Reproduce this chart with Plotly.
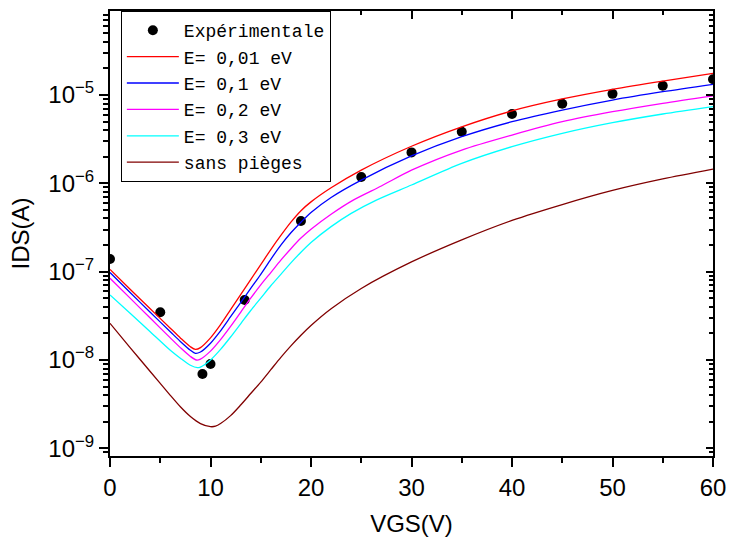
import plotly.graph_objects as go

# Experimental data
vgs_exp = [0, 5, 9.2, 10, 13.4, 19, 25, 30, 35, 40, 45, 50, 55, 60]
ids_exp = [1.39e-7, 3.47e-8, 6.95e-9, 9.0e-9, 4.78e-8, 3.75e-7, 1.18e-6, 2.24e-6,
           3.84e-6, 6.1e-6, 7.97e-6, 1.03e-5, 1.27e-5, 1.51e-5]

# Simulated curves (log10 of IDS)
x_red = [0, 2, 4, 6, 7, 8, 8.5, 9, 10, 11, 12, 13, 14, 15, 16, 17, 18, 19, 20, 22, 25, 30, 35, 40, 45, 50, 55, 60]
lg_red = [-6.975, -7.20, -7.42, -7.64, -7.75, -7.85, -7.88, -7.86, -7.75, -7.60, -7.43, -7.26, -7.09, -6.92,
          -6.75, -6.59, -6.44, -6.31, -6.21, -6.05, -5.85, -5.58, -5.36, -5.18, -5.045, -4.936, -4.842, -4.754]

x_blue = [0, 2, 4, 6, 7, 8, 8.5, 9, 10, 11, 12, 13, 14, 15, 16, 17, 18, 19, 20, 22, 25, 30, 35, 40, 45, 50, 55, 60]
lg_blue = [-7.01, -7.235, -7.46, -7.68, -7.79, -7.89, -7.925, -7.91, -7.81, -7.67, -7.51, -7.35, -7.19, -7.03,
           -6.86, -6.70, -6.56, -6.44, -6.33, -6.16, -5.963, -5.69, -5.472, -5.302, -5.17, -5.057, -4.963, -4.879]

x_mag = [0, 2, 4, 6, 7, 8, 8.6, 9, 10, 11, 12, 13, 14, 15, 16, 17, 18, 19, 20, 22, 24.2, 27, 30, 35, 40, 45, 50, 55, 60]
lg_mag = [-7.075, -7.30, -7.525, -7.75, -7.86, -7.96, -8.0, -7.99, -7.90, -7.77, -7.62, -7.46, -7.30, -7.15,
          -7.01, -6.87, -6.74, -6.62, -6.52, -6.35, -6.19, -6.03, -5.851, -5.623, -5.453, -5.302, -5.189, -5.094, -5.009]

x_cyan = [0, 2, 4, 6, 7, 8, 8.7, 9, 10, 11, 12, 13, 14, 15, 16, 17, 18, 19, 20, 22, 24, 26.5, 30, 35, 40, 45, 50, 55, 60]
lg_cyan = [-7.264, -7.47, -7.68, -7.89, -7.98, -8.06, -8.087, -8.08, -8.0, -7.88, -7.74, -7.59, -7.44, -7.30,
           -7.16, -7.03, -6.90, -6.78, -6.67, -6.49, -6.34, -6.19, -6.019, -5.774, -5.585, -5.434, -5.313, -5.215, -5.131]

x_brown = [0, 2, 4, 6, 7, 8, 9, 10, 10.5, 11, 12, 13, 14, 15, 16, 17, 18, 19, 20, 22, 25, 30, 35, 40, 45, 50, 55, 60]
lg_brown = [-7.585, -7.86, -8.13, -8.40, -8.53, -8.64, -8.72, -8.755, -8.75, -8.72, -8.63, -8.51, -8.38, -8.25,
            -8.11, -7.97, -7.84, -7.72, -7.61, -7.42, -7.19, -6.89, -6.64, -6.42, -6.24, -6.08, -5.95, -5.839]

names = ["E= 0,01 eV", "E= 0,1 eV", "E= 0,2 eV", "E= 0,3 eV", "sans pièges"]
colors = ["#FF0000", "#0000FF", "#FF00FF", "#00FFFF", "#800000"]

# y tick labels
y_tickvals = [1e-9, 1e-8, 1e-7, 1e-6, 1e-5]
y_ticktext = ["10<sup>\u22129</sup>", "10<sup>\u22128</sup>", "10<sup>\u22127</sup>",
              "10<sup>\u22126</sup>", "10<sup>\u22125</sup>"]

fig = go.Figure()
fig.add_trace(go.Scatter(x=vgs_exp, y=ids_exp, mode="markers", name="Expérimentale",
                         marker=dict(color="black", size=10)))
for xs, lg, nm, col in zip([x_red, x_blue, x_mag, x_cyan, x_brown],
                           [lg_red, lg_blue, lg_mag, lg_cyan, lg_brown], names, colors):
    fig.add_trace(go.Scatter(x=xs, y=[10 ** v for v in lg], mode="lines", name=nm,
                             line=dict(color=col, width=1.3, shape="spline", smoothing=0.8)))

# dummy trace for top / right mirror axes
fig.add_trace(go.Scatter(x=[None], y=[None], xaxis="x2", yaxis="y2", showlegend=False, hoverinfo="skip"))

tickfont = dict(family="Liberation Sans, Arial", size=24, color="black")
titlefont = dict(family="Liberation Sans, Arial", size=24, color="black")

fig.update_layout(
    width=729, height=541,
    margin=dict(l=110, r=16, t=11, b=85, autoexpand=False),
    paper_bgcolor="white", plot_bgcolor="white",
    showlegend=True,
    legend=dict(x=0.018, y=1.0, xanchor="left", yanchor="top",
                bordercolor="black", borderwidth=1, bgcolor="white",
                font=dict(family="Liberation Mono, DejaVu Sans Mono, monospace", size=18, color="black"),
                itemwidth=52, tracegroupgap=0),
    xaxis=dict(range=[0, 60], dtick=10, tick0=0, showgrid=False, zeroline=False, automargin=False,
               showline=True, linecolor="black", linewidth=2,
               ticks="outside", ticklen=9, tickwidth=1.5, tickcolor="black",
               minor=dict(dtick=5, ticks="outside", ticklen=5, tickwidth=1.5, tickcolor="black"),
               tickfont=tickfont,
               title=dict(text="VGS(V)", font=titlefont, standoff=15)),
    yaxis=dict(type="log", range=[-9.087, -4.049], tickvals=y_tickvals, ticktext=y_ticktext,
               showgrid=False, zeroline=False, automargin=False,
               showline=True, linecolor="black", linewidth=2,
               ticks="outside", ticklen=9, tickwidth=1.5, tickcolor="black",
               minor=dict(dtick="D1", ticks="outside", ticklen=5, tickwidth=1.5, tickcolor="black"),
               tickfont=tickfont,
               title=dict(text="IDS(A)", font=titlefont, standoff=12)),
    xaxis2=dict(overlaying="x", side="top", anchor="y", range=[0, 60], dtick=10, tick0=0,
                showgrid=False, zeroline=False, showticklabels=False, automargin=False,
                showline=True, linecolor="black", linewidth=2,
                ticks="inside", ticklen=8, tickwidth=1.5, tickcolor="black",
                minor=dict(dtick=5, ticks="inside", ticklen=4, tickwidth=1.5, tickcolor="black")),
    yaxis2=dict(overlaying="y", side="right", anchor="x", type="log", range=[-9.087, -4.049], dtick=1,
                showgrid=False, zeroline=False, showticklabels=False, automargin=False,
                showline=True, linecolor="black", linewidth=2,
                ticks="inside", ticklen=7, tickwidth=1.5, tickcolor="black",
                minor=dict(dtick="D1", ticks="inside", ticklen=4, tickwidth=1.5, tickcolor="black")),
)

fig.write_html("out.html",
               config={"displayModeBar": False},
               post_script="document.body.style.margin='0';"
                           "document.documentElement.style.overflow='hidden';"
                           "document.body.style.overflow='hidden';")
